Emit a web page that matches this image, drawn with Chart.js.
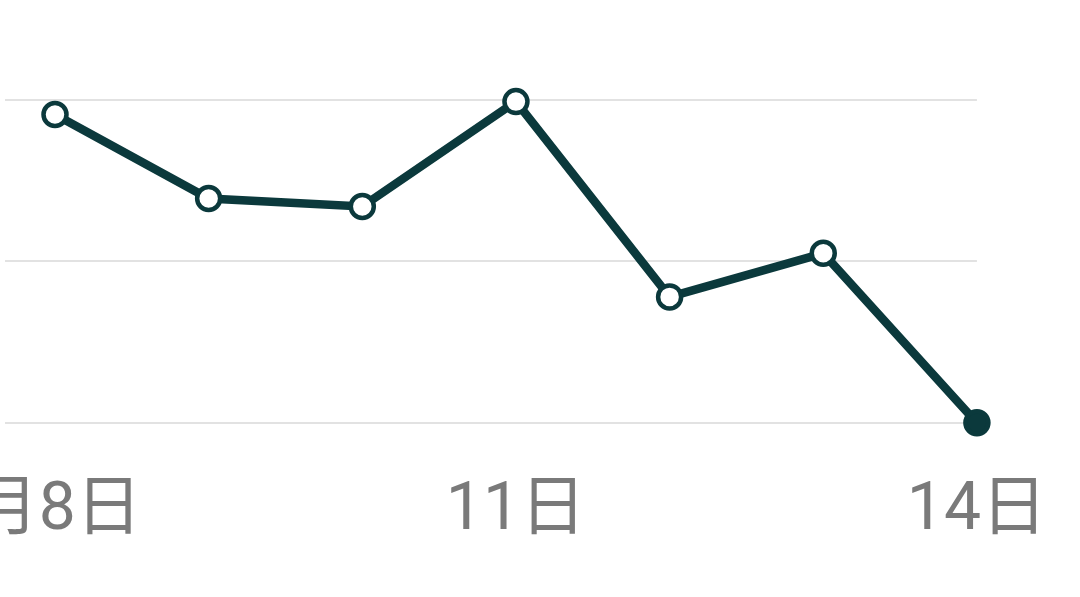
<!DOCTYPE html>
<html>
<head>
<meta charset="utf-8">
<script src="https://cdn.jsdelivr.net/npm/chart.js@4"></script>
<style>
  html, body { margin: 0; padding: 0; background: #fff; overflow: hidden; }
  #wrap { position: absolute; left: -300px; top: 0; width: 1397px; height: 620px; }
</style>
</head>
<body>
<div id="wrap"><canvas id="myChart"></canvas></div>
<script>
// one week of readings, only every third day is labelled
const days = ['9月8日', '9日', '10日', '11日', '12日', '13日', '14日'];
const values = [1.91, 1.39, 1.34, 1.99, 0.78, 1.05, 0];
const yTicks = [0, 1, 2];

const lineColor = '#0b393c';

const ctx = document.getElementById('myChart').getContext('2d');
const chart = new Chart(ctx, {
    type: 'line',
    data: {
        labels: days,
        datasets: [{
            data: values,
            borderColor: lineColor,
            borderWidth: 8.5,
            tension: 0,
            clip: false,
            pointRadius: 11.5,
            pointBorderWidth: 4.5,
            pointBorderColor: lineColor,
            // last day is drawn as a filled dot
            pointBackgroundColor: values.map((v, i) => i === values.length - 1 ? lineColor : '#fff')
        }]
    },
    options: {
        responsive: true,
        maintainAspectRatio: false,
        animation: false,
        layout: {
            padding: { left: 305, right: 0, top: 100, bottom: 18 }
        },
        plugins: {
            legend: { display: false },
            tooltip: { enabled: false }
        },
        scales: {
            x: {
                grid: { display: false, drawTicks: false },
                border: { display: false },
                ticks: {
                    autoSkip: false,
                    maxRotation: 0,
                    padding: 50,
                    color: '#7a7a7a',
                    font: { family: "Roboto, 'Noto Sans CJK SC'", size: 66 },
                    callback: function(val, i) {
                        if (i % 3 !== 0) return '';
                        // first label sits a little left of its point
                        return i === 0 ? days[i] + '  ' : days[i];
                    }
                }
            },
            y: {
                min: yTicks[0],
                max: yTicks[yTicks.length - 1],
                ticks: { display: false, stepSize: 1 },
                border: { display: false },
                grid: {
                    color: '#e2e2e2',
                    lineWidth: 2,
                    drawTicks: true,
                    tickLength: 50
                }
            }
        }
    }
});
</script>
</body>
</html>
